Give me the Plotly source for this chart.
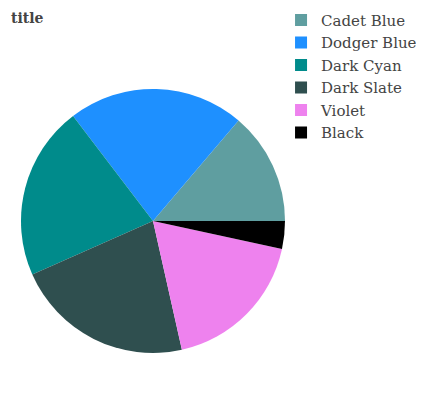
import plotly.graph_objects as go

labels = ["Cadet Blue", "Dodger Blue", "Dark Cyan", "Dark Slate", "Violet", "Black"]
values = [13.8, 21.6, 21.3, 21.9, 18.1, 3.4]
colors = ["#5F9EA0", "#1E90FF", "#008B8B", "#2F4F4F", "#EE82EE", "#000000"]

fig = go.Figure(go.Pie(
    labels=labels, values=values, sort=False, direction="counterclockwise",
    rotation=40.4, marker=dict(colors=colors), textinfo="none", hoverinfo="label+value",
))
fig.update_layout(
    width=424, height=400,
    margin=dict(l=13, r=147, t=81, b=55, autoexpand=False),
    paper_bgcolor="white", plot_bgcolor="white",
    font=dict(family="DejaVu Serif", color="#444444", size=15),
    title=dict(text="<b>title</b>", x=3/424, xref="container", xanchor="left",
               y=1 - 10/400, yref="container", yanchor="middle",
               font=dict(size=14, color="#444444")),
    legend=dict(x=0.985, xanchor="left", y=1.3225, yanchor="top", font=dict(size=15),
                tracegroupgap=0),
)
fig.write_html("out.html")
